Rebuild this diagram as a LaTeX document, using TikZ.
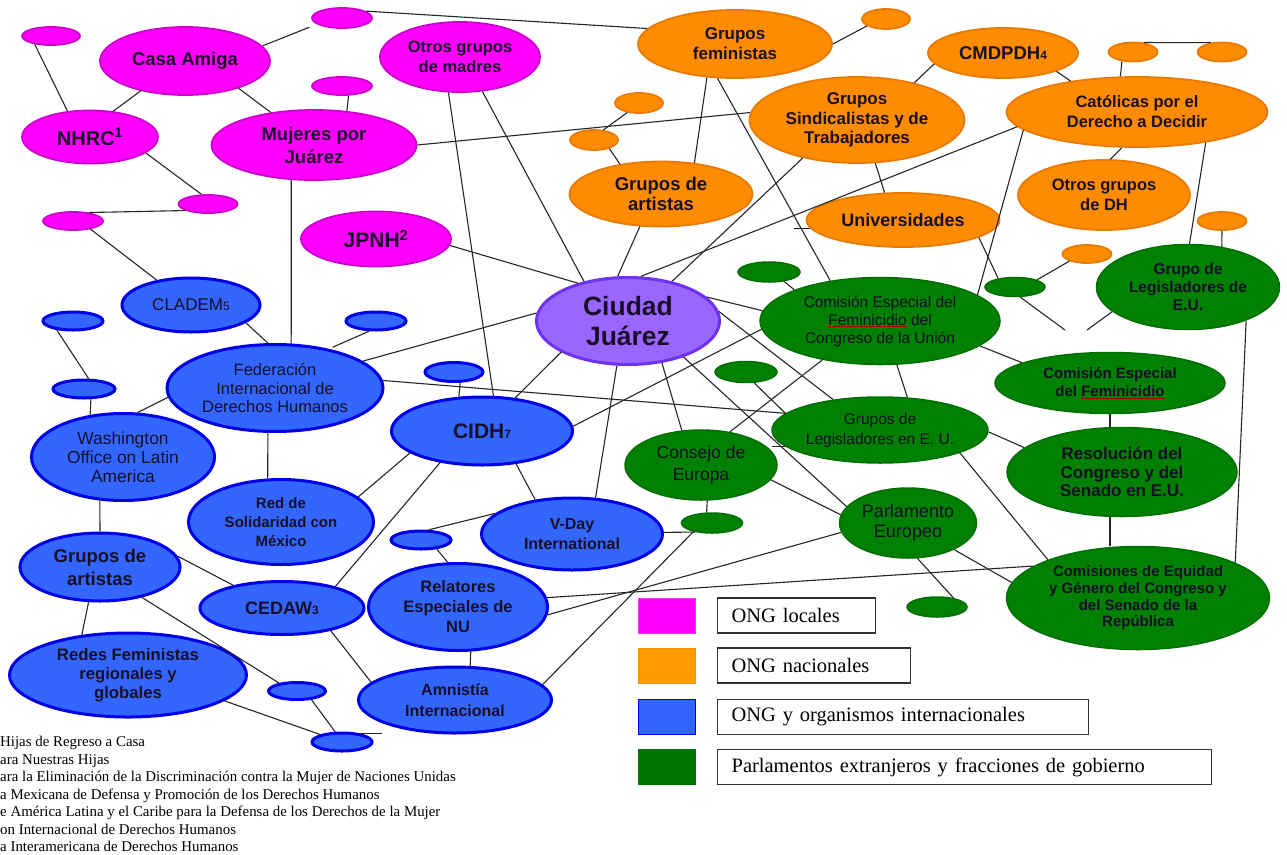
\documentclass[tikz,border=0pt]{standalone}
\usepackage{fontspec}
\setmainfont{Liberation Serif}
\setsansfont{Liberation Sans}
\usetikzlibrary{shapes.geometric}

\definecolor{rosa}{RGB}{255,0,255}
\definecolor{rosaborde}{RGB}{205,0,205}
\definecolor{naranja}{RGB}{255,140,0}
\definecolor{naranjaborde}{RGB}{232,122,0}
\definecolor{azul}{RGB}{51,102,255}
\definecolor{azulborde}{RGB}{0,0,230}
\definecolor{verde}{RGB}{0,128,0}
\definecolor{verdeborde}{RGB}{0,110,0}
\definecolor{lila}{RGB}{153,102,255}
\definecolor{lilaborde}{RGB}{112,48,240}
\definecolor{texto}{RGB}{25,15,40}

\newcommand{\numnota}[1]{{\fontsize{12}{12}\selectfont #1}}
\newcommand{\subrayado}[1]{{\color{red!65!black}\underline{\color{texto}#1}}}

\begin{document}
\begin{tikzpicture}[x=1pt, y=-1pt,
	elipse/.style={ellipse, inner sep=0pt, align=center, text=texto},
	local/.style={elipse, draw=rosaborde, fill=rosa, line width=1.8},
	nacional/.style={elipse, draw=naranjaborde, fill=naranja, line width=1.8},
	internacional/.style={elipse, draw=azulborde, fill=azul, line width=3},
	gobierno/.style={elipse, draw=verdeborde, fill=verde, line width=1.5},
	tam/.style 2 args={minimum width=#1, minimum height=#2},
	letra/.style 2 args={font=\fontsize{#1}{#2}\selectfont\sffamily},
	negrita/.style 2 args={font=\fontsize{#1}{#2}\selectfont\sffamily\bfseries},
	enlace/.style={draw=black!85, line width=1.1},
	cuadro/.style={minimum width=57, minimum height=35, inner sep=0pt, line width=0.8},
	etiqueta/.style={draw=black!80, line width=1.2, minimum height=35, inner xsep=14, inner ysep=0pt, anchor=west, align=left, font=\fontsize{20.5}{24}\selectfont\rmfamily}]
	
	\useasboundingbox (0,0) rectangle (1287,854);
	\fill[white] (0,0) rectangle (1287,854);
	
	% --- ONG locales ---
	\node[local, tam={58}{18}] (pa) at (51,36) {};
	\node[local, tam={170}{68}, negrita={18.5}{22}] (casa) at (185,61) {Casa Amiga};
	\node[local, tam={60}{20}] (pb) at (342,18) {};
	\node[local, tam={60}{18}] (pc) at (342,86) {};
	\node[local, tam={136}{53}, negrita={20}{22}] (nhrc) at (90,137) {NHRC\textsuperscript{1}};
	\node[local, tam={205}{70}, negrita={18.5}{23}] (mujeres) at (314,145) {Mujeres por\\Juárez};
	\node[local, tam={59}{18}] (pd) at (208,204) {};
	\node[local, tam={60}{18}] (pe) at (73,221) {};
	\node[local, tam={150}{55}, negrita={21}{22}] (jpnh) at (376,239) {JPNH\textsuperscript{2}};
	\node[local, tam={160}{70}, negrita={16.5}{20}] (madres) at (460,57) {Otros grupos\\de madres};
	
	% --- ONG nacionales ---
	\node[nacional, tam={194}{68}, negrita={17}{20}] (feministas) at (735,44) {Grupos\\feministas};
	\node[nacional, tam={48}{20}] (oa) at (886,19) {};
	\node[nacional, tam={48}{20}] (ob) at (639,103) {};
	\node[nacional, tam={48}{20}] (oc) at (594,140) {};
	\node[nacional, tam={183}{65}, negrita={18.5}{20}] (artistasO) at (661,194) {Grupos de\\artistas};
	\node[nacional, tam={215}{86}, negrita={17}{19.5}] (sindicalistas) at (857,120) {Grupos\\Sindicalistas y de\\Trabajadores};
	\node[nacional, tam={150}{50}, negrita={18.5}{20}] (cmdpdh) at (1003,53) {CMDPDH\numnota{4}};
	\node[nacional, tam={49}{19}] (od) at (1133,52) {};
	\node[nacional, tam={49}{19}] (oe) at (1222,52) {};
	\node[nacional, tam={261}{70}, negrita={16.5}{20}] (catolicas) at (1137,112) {Católicas por el\\Derecho a Decidir};
	\node[nacional, tam={172}{70}, negrita={16.5}{20}] (otrosdh) at (1104,195) {Otros grupos\\de DH};
	\node[nacional, tam={193}{54}, negrita={18}{20}] (universidades) at (903,220) {Universidades};
	\node[nacional, tam={49}{18}] (of) at (1087,254) {};
	\node[nacional, tam={49}{18}] (og) at (1222,221) {};
	
	% --- Parlamentos y fracciones de gobierno ---
	\node[gobierno, tam={60}{19}] (ga) at (1015,287) {};
	\node[gobierno, tam={183}{85}, negrita={15.5}{18}] (legisEU) at (1188,287) {Grupo de\\Legisladores de\\E.U.};
	\node[gobierno, tam={62}{20}] (gb) at (769,272) {};
	\node[gobierno, tam={240}{87}, letra={15.5}{18}] (comision) at (880,321) {Comisión Especial del\\\subrayado{Feminicidio} del\\Congreso de la Unión};
	\node[gobierno, tam={62}{21}] (gc) at (746,372) {};
	\node[gobierno, tam={216}{66}, letra={15.5}{20}] (legis) at (880,430) {Grupos de\\Legisladores en E. U.};
	\node[gobierno, tam={152}{70}, letra={17.5}{22}] (consejo) at (701,465) {Consejo de\\Europa};
	\node[gobierno, tam={61}{20}] (gd) at (712,523) {};
	\node[gobierno, tam={137}{70}, letra={18}{20}] (europeo) at (908,523) {Parlamento\\Europeo};
	\node[gobierno, tam={60}{20}] (ge) at (937,607) {};
	\node[gobierno, tam={230}{61}, negrita={15}{18}] (comfem) at (1110,383) {Comisión Especial\\del \subrayado{Feminicidio}};
	\node[gobierno, tam={230}{89}, negrita={17}{18.3}] (resolucion) at (1122,472) {Resolución del\\Congreso y del\\Senado en E.U.};
	\node[gobierno, tam={263}{103}, negrita={15}{16.7}] (equidad) at (1138,598) {Comisiones de Equidad\\y Género del Congreso y\\del Senado de la\\República};
	
	% --- ONG y organismos internacionales ---
	\node[internacional, tam={216}{87}, letra={16.5}{18.5}] (federacion) at (275,388) {Federación\\Internacional de\\Derechos Humanos};
	\node[internacional, tam={138}{54}, letra={17}{20}] (cladem) at (191,305) {CLADEM\numnota{5}};
	\node[internacional, tam={60}{18}] (ba) at (73,321) {};
	\node[internacional, tam={62}{18}] (bb) at (84,389) {};
	\node[internacional, tam={60}{18}] (bc) at (376,321) {};
	\node[internacional, tam={183}{87}, letra={17.4}{19}] (washington) at (123,457) {Washington\\Office on Latin\\America};
	\node[internacional, tam={185}{85}, negrita={15}{19}] (red) at (281,522) {Red de\\Solidaridad con\\México};
	\node[internacional, tam={160}{68}, negrita={18.5}{23}] (artistasB) at (100,567) {Grupos de\\artistas};
	\node[internacional, tam={164}{53}, negrita={18}{20}] (cedaw) at (282,608) {CEDAW\numnota{3}};
	\node[internacional, tam={237}{84}, negrita={16.7}{19}] (redes) at (128,675) {Redes Feministas\\regionales y\\globales};
	\node[internacional, tam={57}{17}] (bd) at (297,691) {};
	\node[internacional, tam={60}{18}] (be) at (342,742) {};
	\node[internacional, tam={179}{87}, negrita={16.5}{20}] (relatores) at (458,607) {Relatores\\Especiales de\\NU};
	\node[internacional, tam={60}{18}] (bf) at (421,540) {};
	\node[internacional, tam={193}{66}, negrita={16}{21}] (amnistia) at (455,700) {Amnistía\\Internacional};
	\node[internacional, tam={181}{72}, negrita={16}{20}] (vday) at (572,534) {V-Day\\International};
	\node[internacional, tam={181}{68}, negrita={21}{22}] (cidh) at (482,431) {CIDH\numnota{7}};
	\node[internacional, tam={58}{19}] (bg) at (454,372) {};
	
	% --- centro ---
	\node[elipse, draw=lilaborde, fill=lila, line width=3, tam={183}{87}, negrita={26.5}{30}] (ciudad) at (628,321) {Ciudad\\Juárez};
	
	% --- enlaces ---
	\draw[enlace] (pa.207) -- (nhrc.131);
	\draw[enlace] (casa.214) -- (nhrc.48);
	\draw[enlace, shorten >=8] (casa.11) -- (pb.194);
	\draw[enlace] (casa.-27) -- (mujeres.143);
	\draw[enlace] (pc.-56) -- (mujeres.46);
	\draw[enlace] (nhrc.-16) -- (pd.124);
	\draw[enlace] (pe.28) -- (pd.196);
	\draw[enlace] (pe.-25) -- (cladem.144);
	\draw[enlace] (mujeres.237) -- (federacion.70);
	\draw[enlace] (mujeres.east) -- (sindicalistas.176);
	\draw[enlace] (ob.219) -- (oc.47);
	\draw[enlace] (oc.-29) -- (artistasO.144);
	\draw[enlace] (feministas.230) -- (artistasO.43);
	\draw[enlace] (feministas.243) -- (comision.141);
	\draw[enlace] (pb.16) -- (feministas.170);
	\draw[enlace] (feministas.east) -- (oa.200);
	\draw[enlace] (madres.252) -- (cidh.72);
	\draw[enlace] (madres.-57) -- (ciudad.138);
	\draw[enlace] (artistasO.237) -- (ciudad.103);
	\draw[enlace] (sindicalistas.215) -- (ciudad.42);
	\draw[enlace] (catolicas.187) -- (ciudad.74);
	\draw[enlace] (universidades.185) -- +(-16,0);
	\draw[enlace] (sindicalistas.-67) -- (universidades.124);
	\draw[enlace] (cmdpdh.189) -- (sindicalistas.33);
	\draw[enlace] (cmdpdh.-19) -- (catolicas.155);
	\draw[enlace] (od.220) -- (catolicas.115);
	\draw[enlace] (od.42) -- (oe.140);
	\draw[enlace] (catolicas.247) -- (otrosdh.80);
	\draw[enlace] (catolicas.-24) -- (legisEU.88);
	\draw[enlace] (catolicas.189) -- (comision.15);
	\draw[enlace] (universidades.-13) -- (ga.153);
	\coordinate (fa) at (1065,330);
	\coordinate (fb) at (1087,330);
	\draw[enlace] (ga.-63) -- (fa);
	\draw[enlace] (legisEU.198) -- (fb);
	\draw[enlace] (ga.18) -- (of.202);
	\draw[enlace] (og.south) -- (legisEU.50);
	\draw[enlace] (legisEU.-30) -- (equidad.20);
	\draw[enlace] (gb.-32) -- (comision.160);
	\draw[enlace] (ciudad.17) -- (comision.175);
	\draw[enlace] (comision.184) -- (cidh.3);
	\draw[enlace] (comision.-69) -- (legis.50);
	\draw[enlace] (comision.-14) -- (comfem.167);
	\draw[enlace] (comision.214) -- (consejo.49);
	\draw[enlace] (ciudad.6) -- (legis.147);
	\draw[enlace] (gc.-53) -- (legis.170);
	\draw[enlace] (legis.190) -- +(-13,0);
	\draw[enlace] (ciudad.-33) -- (europeo.165);
	\draw[enlace] (ciudad.-51) -- (consejo.119);
	\draw[enlace] (ciudad.256) -- (vday.57);
	\draw[enlace] (ciudad.205) -- (cidh.45);
	\draw[enlace] (ciudad.175) -- (federacion.17);
	\draw[enlace] (jpnh.-5) -- (ciudad.143);
	\draw[enlace] (federacion.4) -- (legis.170);
	\draw[enlace, shorten >=4] (bc.236) -- (federacion.36);
	\draw[enlace] (cladem.-18) -- (federacion.99);
	\draw[enlace] (ba.209) -- (bb.66);
	\draw[enlace] (bb.-56) -- (washington.128);
	\draw[enlace] (federacion.185) -- (washington.72);
	\draw[enlace] (federacion.261) -- (red.107);
	\draw[enlace] (washington.242) -- (artistasB.north);
	\draw[enlace] (red.18) -- (cidh.197);
	\draw[enlace] (cidh.217) -- (cedaw.22);
	\draw[enlace] (cidh.-44) -- (vday.137);
	\draw[enlace] (bg.-60) -- (cidh.124);
	\draw[enlace] (vday.165) -- (bf.53);
	\draw[enlace] (bf.-30) -- (relatores.103);
	\draw[enlace] (vday.1) -- (gd.208);
	\draw[enlace] (gd.117) -- (consejo.-80);
	\draw[enlace] (gd.205) -- (amnistia.10);
	\draw[enlace] (relatores.6) -- (equidad.163);
	\draw[enlace] (relatores.-5) -- (europeo.188);
	\draw[enlace] (europeo.-75) -- (ge.29);
	\draw[enlace] (europeo.-30) -- (equidad.173);
	\draw[enlace] (consejo.-12) -- (europeo.173);
	\draw[enlace] (legis.-16) -- (equidad.157);
	\draw[enlace] (legis.-1) -- (resolucion.166);
	\draw[enlace] (comfem.south) -- (comfem.south |- resolucion.north);
	\draw[enlace] (comfem.south |- resolucion.south) -- (comfem.south |- equidad.north);
	\draw[enlace] (artistasB.8) -- (cedaw.155);
	\draw[enlace] (artistasB.-36) -- (bd.156);
	\draw[enlace] (artistasB.252) -- (redes.139);
	\draw[enlace] (redes.-15) -- (be.161);
	\draw[enlace] (bd.-31) -- (be.124);
	\draw[enlace] (be.25) -- +(22,0);
	\draw[enlace] (cedaw.-25) -- (amnistia.168);
	\draw[enlace] (relatores.-74) -- (amnistia.66);
	
	% --- leyenda ---
	\node[cuadro, fill=rosa, draw=rosa!80] (cl1) at (666.5,615.5) {};
	\node[cuadro, fill=naranja!85!yellow, draw=naranja] (cl2) at (666.5,665.5) {};
	\node[cuadro, fill=azul, draw=azulborde] (cl3) at (666.5,717) {};
	\node[cuadro, fill=verde!92!black, draw=verdeborde] (cl4) at (666.5,767) {};
	\node[etiqueta, text width=130] (el1) at (717,615.5) {ONG locales};
	\node[etiqueta, text width=165] (el2) at (717,665.5) {ONG nacionales};
	\node[etiqueta, text width=343] (el3) at (717,717) {ONG y organismos internacionales};
	\node[etiqueta, text width=466] (el4) at (717,767) {Parlamentos extranjeros y fracciones de gobierno};
	
	% --- notas ---
	\node[anchor=north west, inner sep=0pt, align=left, font=\fontsize{14.9}{17.5}\selectfont\rmfamily] (notas) at (0,736) {Hijas de Regreso a Casa\\ara Nuestras Hijas\\ara la Eliminación de la Discriminación contra la Mujer de Naciones Unidas\\a Mexicana de Defensa y Promoción de los Derechos Humanos\\e América Latina y el Caribe para la Defensa de los Derechos de la Mujer\\on Internacional de Derechos Humanos\\a Interamericana de Derechos Humanos};
\end{tikzpicture}
\end{document}
